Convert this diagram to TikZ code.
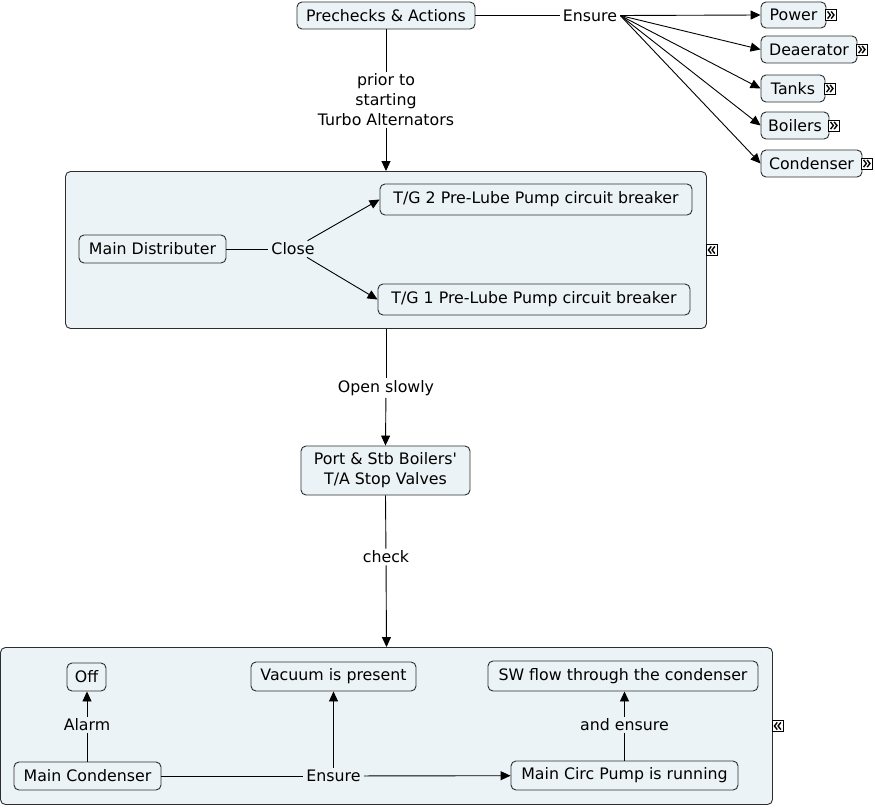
\documentclass[tikz,border=0pt]{standalone}
\usepackage{fontspec}
\setmainfont{DejaVu Sans}
\usetikzlibrary{arrows.meta}
\definecolor{nodefill}{RGB}{236,243,246}
\definecolor{edgegray}{RGB}{45,45,45}
\begin{document}
\begin{tikzpicture}[x=1pt,y=-1pt,
  txt/.style={font=\fontsize{15.8}{20}\selectfont},
  concept/.style={txt, draw=edgegray, fill=nodefill, rounded corners=5pt,
    inner xsep=4pt, inner ysep=0pt, line width=0.9pt, align=center},
  container/.style={draw=edgegray, fill=nodefill, rounded corners=5pt, line width=0.9pt},
  lbl/.style={txt, inner xsep=3pt, inner ysep=2pt, align=center},
  link/.style={line width=0.9pt, black},
  arr/.style={link, -{Triangle[length=10pt,width=9pt]}},
  expandR/.pic={
    \draw[fill=white, line width=0.9pt] (-5.5,-5.5) rectangle (5.5,5.5);
    \draw[line width=1.4pt] (-3.4,-3.6) -- (-0.6,0) -- (-3.4,3.6);
    \draw[line width=1.4pt] (0.2,-3.6) -- (3,0) -- (0.2,3.6);
  },
  expandL/.pic={
    \draw[fill=white, line width=0.9pt] (-5.5,-5.5) rectangle (5.5,5.5);
    \draw[line width=1.4pt] (3.4,-3.6) -- (0.6,0) -- (3.4,3.6);
    \draw[line width=1.4pt] (-0.2,-3.6) -- (-3,0) -- (-0.2,3.6);
  }
]
\useasboundingbox (0,0) rectangle (875,808);

% containers
\node[container, minimum width=641pt, minimum height=157pt] (box1) at (386,250) {};
\node[container, minimum width=772pt, minimum height=157pt] (box2) at (386.5,726) {};
\pic at ([xshift=4.5pt]box1.east) {expandL};
\pic at ([xshift=4.5pt]box2.east) {expandL};

% top part
\node[concept, minimum width=178pt, minimum height=27pt] (pre) at (386,15.5) {Prechecks \& Actions};
\node[lbl] (ens1) at (590,15.5) {Ensure};
\node[concept, minimum width=65pt, minimum height=26pt] (power) at (793.5,15) {Power};
\node[concept, minimum width=96pt, minimum height=27pt] (deaer) at (809,49.5) {Deaerator};
\node[concept, minimum width=64pt, minimum height=27pt] (tanks) at (793,88.5) {Tanks};
\node[concept, minimum width=68pt, minimum height=27pt] (boil) at (795,125.5) {Boilers};
\node[concept, minimum width=101pt, minimum height=27pt] (cond) at (811.5,163.5) {Condenser};
\foreach \n in {power,deaer,tanks,boil,cond}{
  \pic at ([xshift=4.5pt]\n.east) {expandR};
}
\draw[link] (pre) -- (ens1);
\draw[arr] (ens1.east) -- (power.west);
\foreach \n in {deaer,tanks,boil,cond}{
  \draw[arr] (ens1.east) -- (\n.west);
}

\node[lbl] (prior) at (386,100) {prior to\\starting\\Turbo Alternators};
\draw[link] (pre) -- (prior);
\draw[arr] (prior) -- (box1.north);

% box 1 content
\node[concept, minimum width=147pt, minimum height=28pt] (maind) at (152.5,249) {Main Distributer};
\node[lbl] (close) at (293,249) {Close};
\node[concept, minimum width=312pt, minimum height=31pt] (tg2) at (536,199.5) {T/G 2 Pre-Lube Pump circuit breaker};
\node[concept, minimum width=312pt, minimum height=31pt] (tg1) at (534,299.5) {T/G 1 Pre-Lube Pump circuit breaker};
\draw[link] (maind) -- (close);
\draw[arr] (close) -- (tg2.west);
\draw[arr] (close) -- (tg1.west);

% middle
\node[lbl] (open) at (386,388) {Open slowly};
\node[concept, minimum width=169pt, minimum height=49pt] (port) at (385.5,470.5) {Port \& Stb Boilers\textquotesingle\\T/A Stop Valves};
\draw[link] (box1.south) -- (open);
\draw[arr] (open) -- (port.north);
\node[lbl] (check) at (386,557) {check};
\draw[link] (port.south) -- (check);
\draw[arr] (check) -- (box2.north);

% box 2 content
\node[concept, minimum width=39pt, minimum height=28pt] (off) at (86.5,677) {Off};
\node[concept, minimum width=165pt, minimum height=29pt] (vac) at (333.5,676.5) {Vacuum is present};
\node[concept, minimum width=270pt, minimum height=30pt] (sw) at (623,676) {SW flow through the condenser};
\node[concept, minimum width=147pt, minimum height=28pt] (mcond) at (87.5,776) {Main Condenser};
\node[concept, minimum width=227pt, minimum height=29pt] (mcp) at (624.5,775.5) {Main Circ Pump is running};
\node[lbl] (alarm) at (87,725) {Alarm};
\node[lbl] (ens2) at (333.5,776) {Ensure};
\node[lbl] (andens) at (624.5,725) {and ensure};
\draw[link] (mcond.north -| alarm) -- (alarm);
\draw[arr] (alarm) -- (off.south -| alarm);
\draw[link] (mcond) -- (ens2);
\draw[arr] (ens2) -- (mcp);
\draw[arr] (ens2) -- (vac);
\draw[link] (mcp.north -| andens) -- (andens);
\draw[arr] (andens) -- (sw.south -| andens);
\end{tikzpicture}
\end{document}
